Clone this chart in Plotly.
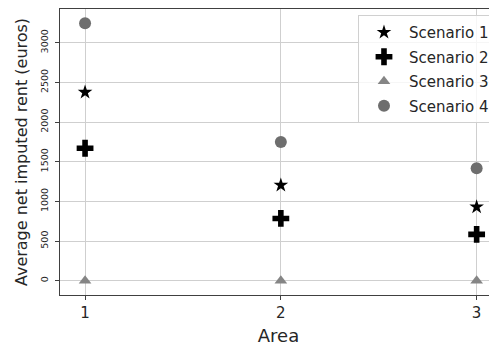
import plotly.graph_objects as go

areas = [1, 2, 3]
scenario_names = ["Scenario 1", "Scenario 2", "Scenario 3", "Scenario 4"]
scenario1 = [2376, 1204, 930]
scenario2 = [1670, 785, 584]
scenario3 = [0, 0, 0]
scenario4 = [3246, 1748, 1417]
y_ticks = [0, 500, 1000, 1500, 2000, 2500, 3000]

series = [scenario1, scenario2, scenario3, scenario4]
symbols = ["star", "cross", "triangle-up", "circle"]
colors = ["black", "black", "#858585", "#6e6e6e"]
sizes = [11, 14, 11, 12]

fig = go.Figure()
for i, (name, vals) in enumerate(zip(scenario_names, series)):
    fig.add_trace(go.Scatter(
        x=areas, y=vals, mode="markers", name=name,
        legendgroup=name,
        marker=dict(symbol=symbols[i], color=colors[i], size=sizes[i], line=dict(width=0)),
    ))

# page body has an 8px margin, so the figure is sized to fill the rest
fig.update_layout(
    width=489, height=338,
    margin=dict(l=52, r=0, t=1, b=51, autoexpand=False),
    paper_bgcolor="white", plot_bgcolor="white",
    font=dict(family="DejaVu Sans", color="#262626"),
    showlegend=True,
    legend=dict(
        x=0.9954, y=0.979, xanchor="right", yanchor="top",
        bgcolor="rgba(255,255,255,0.8)", bordercolor="#d0d0d0", borderwidth=1,
        font=dict(size=15, family="DejaVu Sans", color="#262626"),
        tracegroupgap=2, itemwidth=40,
    ),
)
fig.update_xaxes(
    range=[0.872, 3.104], tickvals=areas, ticktext=[str(a) for a in areas],
    showgrid=True, gridcolor="#cfcfcf", gridwidth=1,
    showline=True, linecolor="#404040", linewidth=1, mirror=True,
    ticks="outside", ticklen=4, tickcolor="#404040", automargin=False,
    tickfont=dict(size=15), zeroline=False,
    title=dict(text="Area", font=dict(size=18), standoff=8),
)
fig.update_yaxes(
    range=[-180, 3425], tickvals=y_ticks, ticktext=[str(t) for t in y_ticks],
    showgrid=True, gridcolor="#cfcfcf", gridwidth=1,
    showline=True, linecolor="#404040", linewidth=1, mirror=True,
    ticks="outside", ticklen=4, tickcolor="#404040", automargin=False,
    tickangle=-90, tickfont=dict(size=9.5), zeroline=False, ticklabelstandoff=3,
    title=dict(text="Average net imputed rent (euros)", font=dict(size=16), standoff=7),
)

fig.write_html("out.html")
